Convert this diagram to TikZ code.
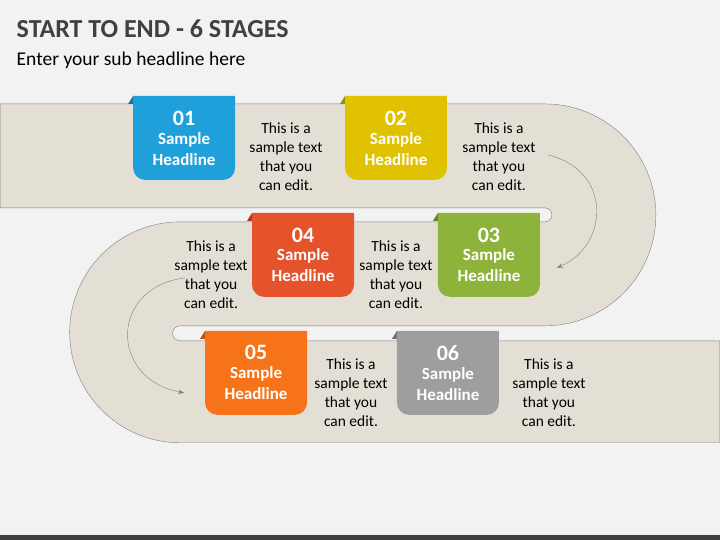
\documentclass[tikz,border=0pt]{standalone}
\usepackage{fontspec}
\setmainfont{Carlito}
\usetikzlibrary{arrows.meta}

\definecolor{bgc}{HTML}{F2F2F2}
\definecolor{roadc}{HTML}{E4DFD5}
\definecolor{titlec}{HTML}{404040}
\definecolor{cA}{HTML}{1FA0DB}\definecolor{dA}{HTML}{16759F}
\definecolor{cB}{HTML}{E0C200}\definecolor{dB}{HTML}{A38D00}
\definecolor{cC}{HTML}{8DB33A}\definecolor{dC}{HTML}{63812A}
\definecolor{cD}{HTML}{E4532B}\definecolor{dD}{HTML}{A63B1E}
\definecolor{cE}{HTML}{F7731A}\definecolor{dE}{HTML}{B55312}
\definecolor{cF}{HTML}{9E9E9E}\definecolor{dF}{HTML}{6E6E6E}

\tikzset{
  bodytext/.style={align=center, font=\fontsize{15.5}{19}\selectfont, text=black},
  tabtext/.style={align=center, text=white, font=\fontsize{17}{21}\selectfont\bfseries},
  turnarrow/.style={draw=gray, thin, -{Stealth[length=6pt]}}
}

% tab: name, left x, top y, colour, fold colour, number
\newcommand{\stagetab}[6]{
  \fill[#5] (#2-5,#3-8) -- (#2,#3) -- (#2,#3-8) -- cycle;
  \fill[#4] (#2+102,#3) -- (#2,#3) [rounded corners=12pt] -- (#2,#3-84) -- (#2+102,#3-84) [sharp corners] -- (#2+102,#3) -- cycle;
  \node[tabtext] (#1) at (#2+51,#3-42) {{\fontsize{22}{24}\selectfont #6}\\[-2pt]Sample\\Headline};
}

\begin{document}
\begin{tikzpicture}[x=1pt,y=1pt]
  \fill[bgc] (0,0) rectangle (720,540);
  \fill[titlec] (0,0) rectangle (720,5);

  \node[anchor=west, text=titlec, font=\fontsize{26}{28}\selectfont\bfseries] (title) at (13,511) {START TO END - 6 STAGES};
  \node[anchor=west, text=black, font=\fontsize{19.5}{22}\selectfont] (sub) at (13,480) {Enter your sub headline here};

  % road
  \draw[gray, fill=roadc] (0,436) -- (545,436) arc[start angle=90, end angle=-90, radius=111]
    -- (180,214) arc[start angle=90, end angle=270, radius=7.5]
    -- (720,199) -- (720,97) -- (180,97) arc[start angle=270, end angle=90, radius=110.5]
    -- (545,318) arc[start angle=-90, end angle=90, radius=7] -- (0,332) -- cycle;

  \stagetab{t01}{133}{444}{cA}{dA}{01}
  \stagetab{t02}{345}{444}{cB}{dB}{02}
  \stagetab{t04}{252}{327}{cD}{dD}{04}
  \stagetab{t03}{438}{327}{cC}{dC}{03}
  \stagetab{t05}{205}{209}{cE}{dE}{05}
  \stagetab{t06}{397}{209}{cF}{dF}{06}

  \node[bodytext] (s01) at (286,383) {This is a\\sample text\\that you\\can edit.};
  \node[bodytext] (s02) at (499,383) {This is a\\sample text\\that you\\can edit.};
  \node[bodytext] (s04) at (211,265) {This is a\\sample text\\that you\\can edit.};
  \node[bodytext] (s03) at (396,265) {This is a\\sample text\\that you\\can edit.};
  \node[bodytext] (s05) at (351,147) {This is a\\sample text\\that you\\can edit.};
  \node[bodytext] (s06) at (549,147) {This is a\\sample text\\that you\\can edit.};

  \coordinate (ra) at (548,385);
  \coordinate (rb) at (557,272);
  \coordinate (la) at (185,262);
  \coordinate (lb) at (184,147);
  \draw[turnarrow] (ra) .. controls (612,370) and (610,295) .. (rb);
  \draw[turnarrow] (la) .. controls (108,252) and (110,160) .. (lb);
\end{tikzpicture}
\end{document}
